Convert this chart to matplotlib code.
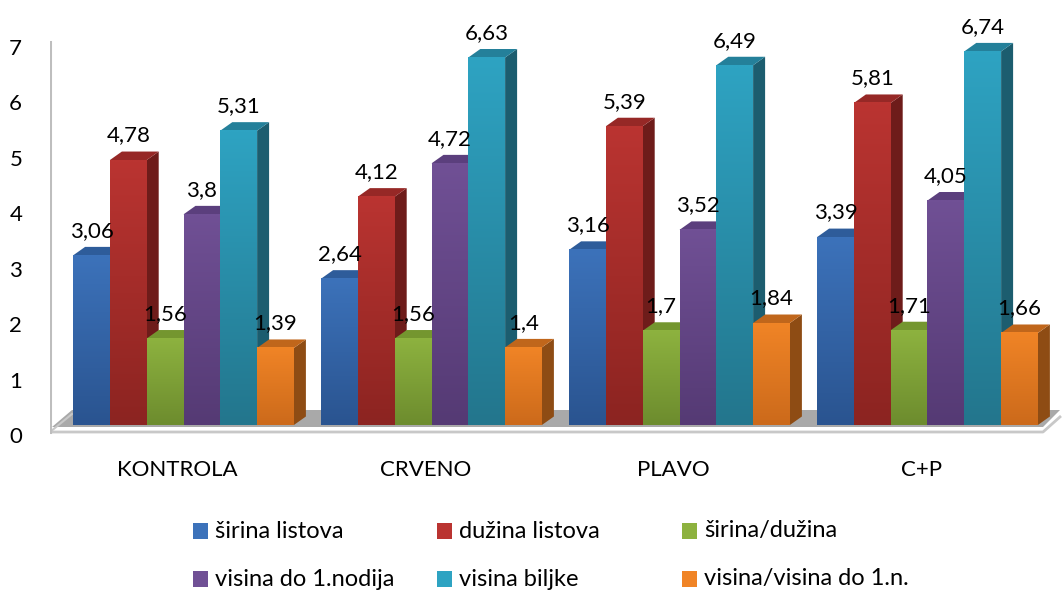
import numpy as np
import matplotlib
matplotlib.use("Agg")
import matplotlib.pyplot as plt
from matplotlib.patches import Polygon, Rectangle
from matplotlib.colors import to_rgb

# ---- data ----
categories = ["KONTROLA", "CRVENO", "PLAVO", "C+P"]
series_names = ["širina listova", "dužina listova", "širina/dužina",
                "visina do 1.nodija", "visina biljke", "visina/visina do 1.n."]
sirina_listova = [3.06, 2.64, 3.16, 3.39]
duzina_listova = [4.78, 4.12, 5.39, 5.81]
sirina_duzina = [1.56, 1.56, 1.70, 1.71]
visina_do_nodija = [3.80, 4.72, 3.52, 4.05]
visina_biljke = [5.31, 6.63, 6.49, 6.74]
visina_omjer = [1.39, 1.40, 1.84, 1.66]
series_values = [sirina_listova, duzina_listova, sirina_duzina,
                 visina_do_nodija, visina_biljke, visina_omjer]
y_ticks = [0, 1, 2, 3, 4, 5, 6, 7]

# ---- styling ----
front_top = ["#3C72BA", "#BA3431", "#8DB23F", "#705095", "#2EA3C2", "#F08426"]
front_bot = ["#2A5490", "#8C2421", "#6D8C2E", "#553A74", "#23768D", "#CC6A1B"]
side_col = ["#23467A", "#6E1C1A", "#5A7526", "#46305F", "#1C5D6F", "#8E4C14"]
top_col = ["#2E5C9A", "#962826", "#74962F", "#5B3F7D", "#24809A", "#C0661B"]
FONT = "Lato"

W, H = 1062, 592
fig = plt.figure(figsize=(W / 100, H / 100), dpi=100)

# pixel layout helpers (layout only)
PX_X0, PX_PER_X = 183.5, 248.0     # pixel of category 0 centre, pixels per category
PX_Y0, PX_PER_Y = 435.0, 55.43     # pixel of value 0, pixels per unit

def xpx(p):
    return (p - PX_X0) / PX_PER_X

def ypx(p):
    return (PX_Y0 - p) / PX_PER_Y

ax_left_px, ax_right_px, ax_top_px, ax_bot_px = 50, 1062, 20, 445
ax = fig.add_axes([ax_left_px / W, 1 - ax_bot_px / H,
                   (ax_right_px - ax_left_px) / W, (ax_bot_px - ax_top_px) / H])
ax.set_xlim(xpx(ax_left_px), xpx(ax_right_px))
ax.set_ylim(ypx(ax_bot_px), ypx(ax_top_px))
for s in ax.spines.values():
    s.set_visible(False)
ax.set_xticks([])
ax.set_yticks(y_ticks)
ax.set_yticklabels([str(t) for t in y_ticks], fontsize=16, family=FONT)
ax.tick_params(axis="y", length=0, pad=20)

bar_w = 36.8 / PX_PER_X
dx = 12 / PX_PER_X
dy = 8.5 / PX_PER_Y
base = ypx(425)

# floor
fl = Polygon([(xpx(52), ypx(427)), (xpx(72), ypx(410)), (xpx(1060), ypx(410)),
              (xpx(1043), ypx(427))], closed=True, facecolor="#A9A9A9",
             edgecolor="none", zorder=1)
ax.add_patch(fl)
ax.plot([xpx(50), xpx(1043), xpx(1061)], [ypx(432), ypx(432), ypx(416)],
        color="#C8C8C8", lw=2, zorder=1, solid_capstyle="butt")
ax.plot([xpx(50), xpx(72)], [ypx(432), ypx(414)], color="#C8C8C8", lw=1.5, zorder=1)
# wall line
ax.plot([xpx(50), xpx(50)], [ypx(432), ypx(42)], color="#BEBEBE", lw=2.2, zorder=1)

n = len(series_values)
grad = np.linspace(0, 1, 64)[:, None]
z = 2
for ci in range(len(categories)):
    for k in range(n):
        v = series_values[k][ci]
        x0 = ci + (k - n / 2) * bar_w
        x1 = x0 + bar_w
        y0, y1 = base, base + v
        # side face
        ax.add_patch(Polygon([(x1, y0), (x1 + dx, y0 + dy), (x1 + dx, y1 + dy), (x1, y1)],
                             closed=True, facecolor=side_col[k], edgecolor="none", zorder=z))
        # top face
        ax.add_patch(Polygon([(x0, y1), (x0 + dx, y1 + dy), (x1 + dx, y1 + dy), (x1, y1)],
                             closed=True, facecolor=top_col[k], edgecolor="none", zorder=z))
        # front face with gradient
        c0 = np.array(to_rgb(front_bot[k]))
        c1 = np.array(to_rgb(front_top[k]))
        img = c0[None, None, :] * (1 - grad[:, :, None]) + c1[None, None, :] * grad[:, :, None]
        ax.imshow(img, extent=(x0, x1, y0, y1), origin="lower", aspect="auto",
                  interpolation="bilinear", zorder=z + 0.5)
        # label
        ax.text(x0 + bar_w / 2, y1 + dy + 6 / PX_PER_Y,
                f"{v:g}".replace(".", ","), ha="center", va="bottom",
                fontsize=16, family=FONT, color="#000000", zorder=50)
        z += 1

ax.set_xlim(xpx(ax_left_px), xpx(ax_right_px))
ax.set_ylim(ypx(ax_bot_px), ypx(ax_top_px))

# category labels
for ci, c in enumerate(categories):
    ax.text(ci - 0.025, ypx(470), c, ha="center", va="center", fontsize=16,
            family=FONT, color="#000000")

# legend (manual, Excel-like layout)
leg_cols_px = [193, 437, 682]
leg_rows_px = [531, 579]
for k, name in enumerate(series_names):
    r, c = divmod(k, 3)
    lx, ly = leg_cols_px[c], leg_rows_px[r]
    fig.patches.append(Rectangle((lx / W, 1 - (ly + 8) / H), 15 / W, 16 / H,
                                 transform=fig.transFigure, facecolor=front_top[k],
                                 edgecolor="none"))
    fig.text((lx + 22) / W, 1 - ly / H, name, ha="left", va="center",
             fontsize=17, family=FONT, color="#000000")

fig.savefig("out.png", dpi=100)
